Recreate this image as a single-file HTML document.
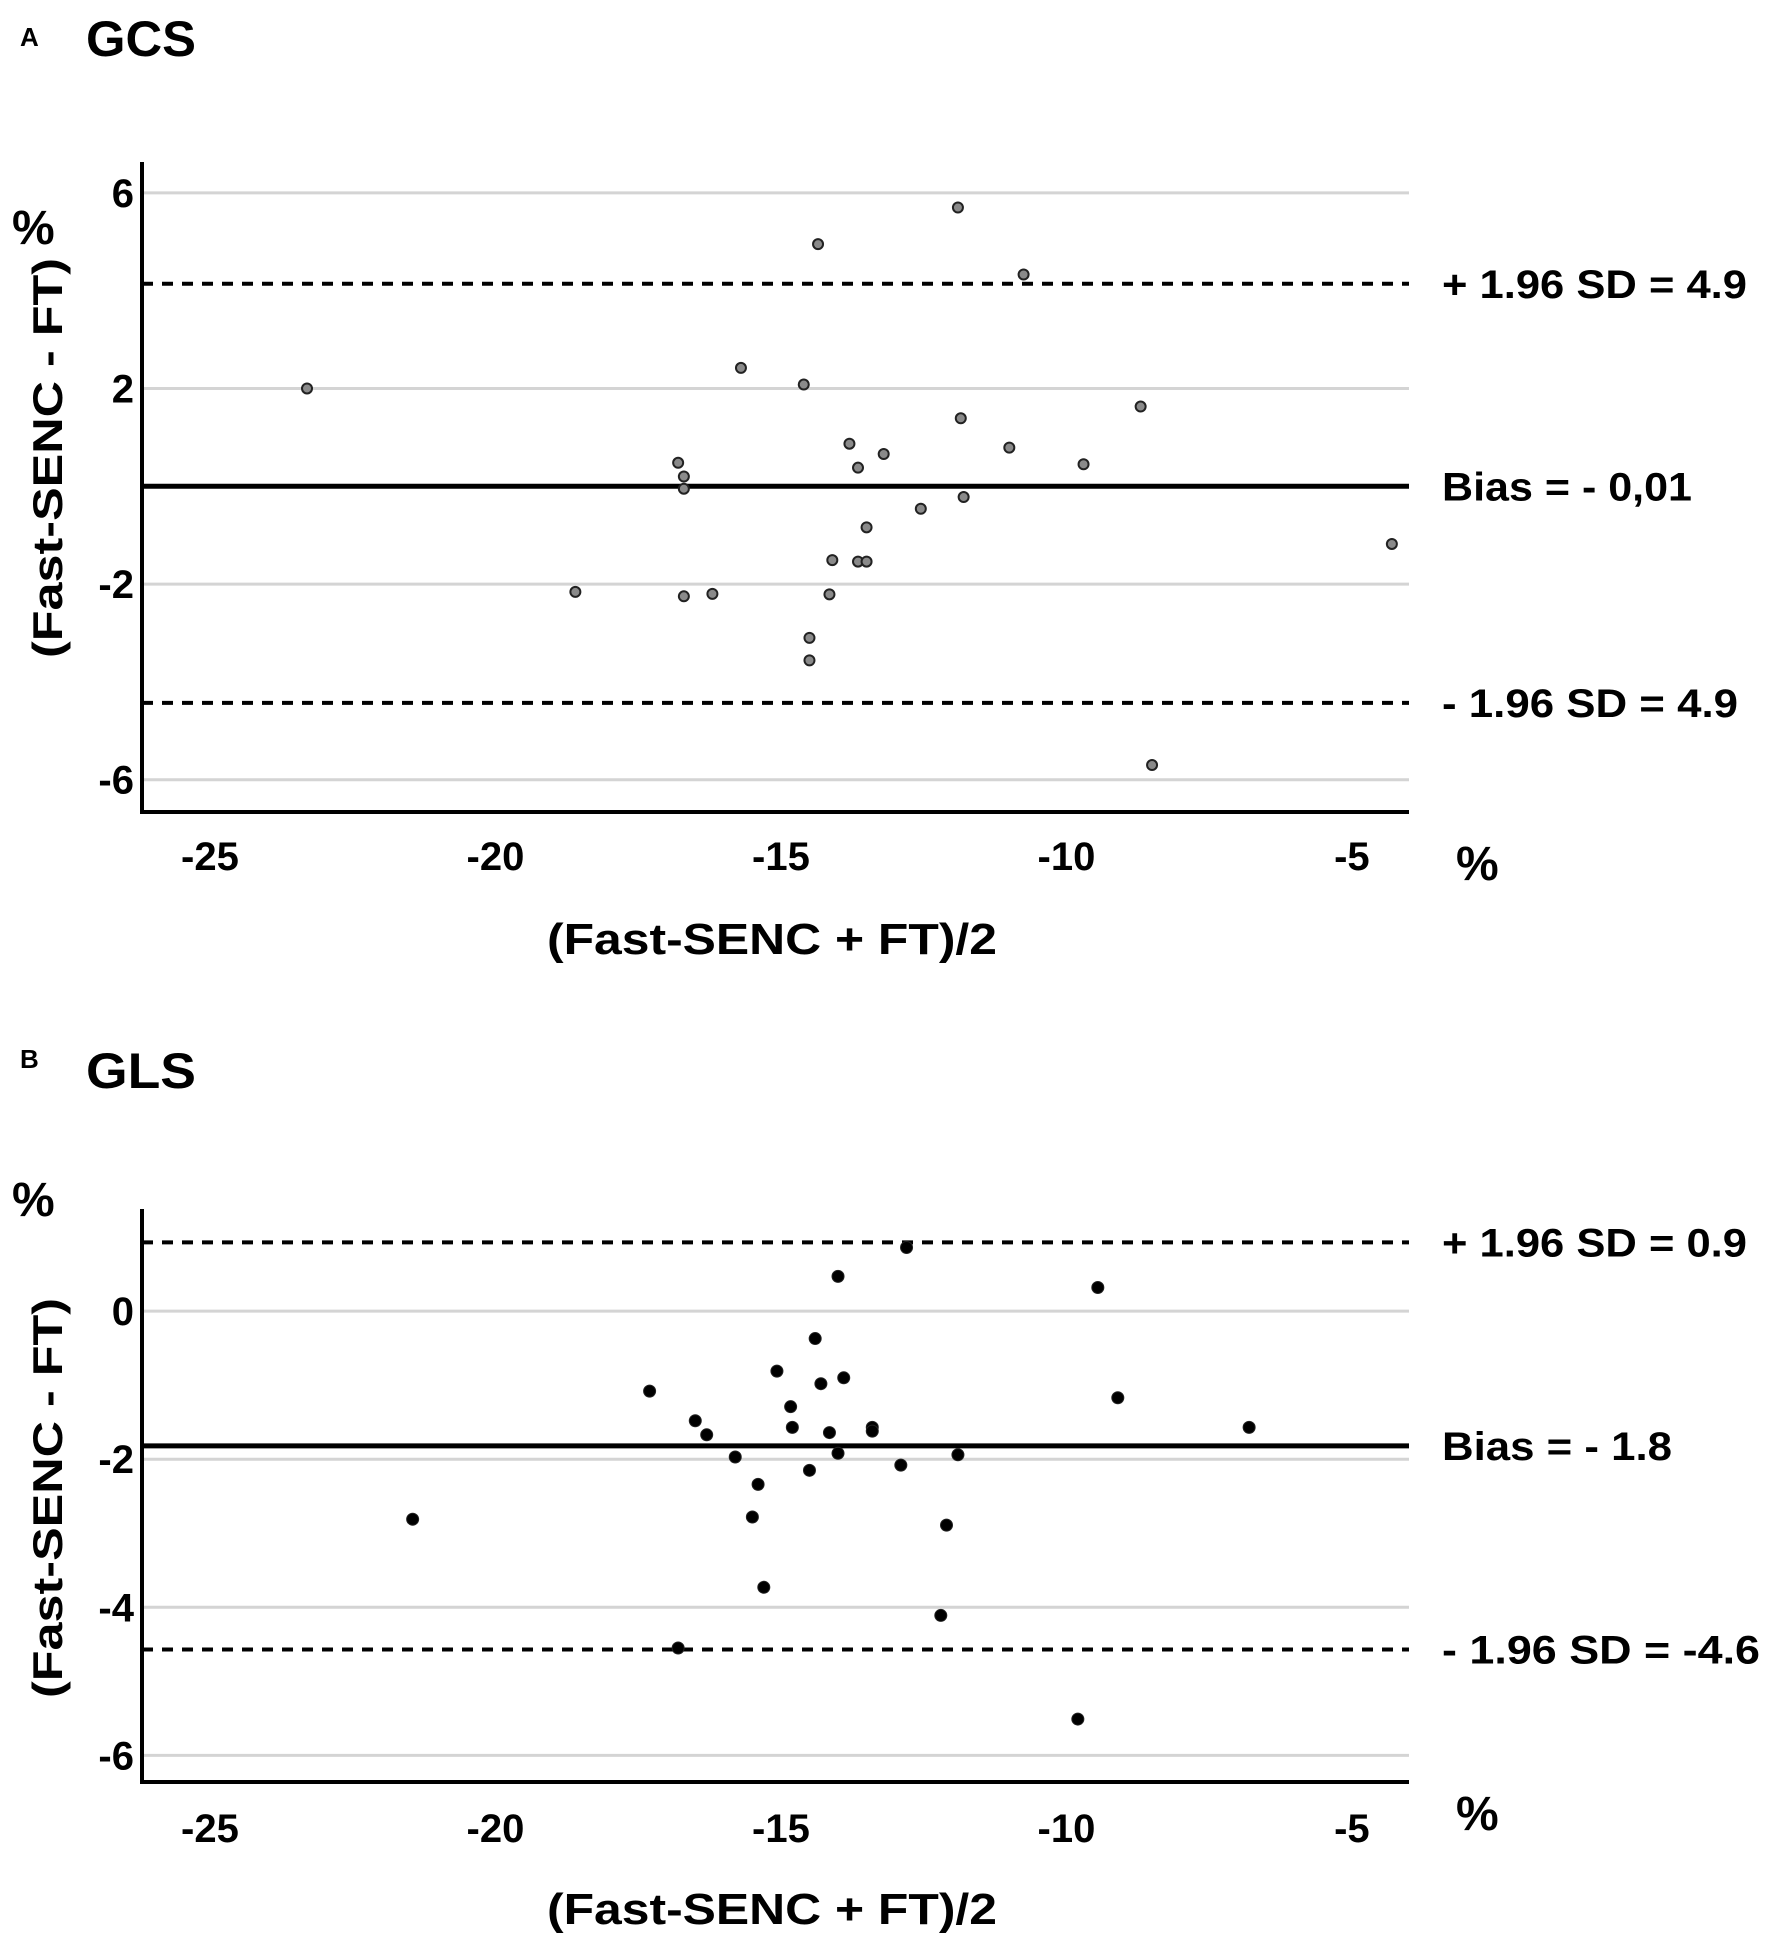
<!DOCTYPE html>
<html><head><meta charset="utf-8"><style>
html,body{margin:0;padding:0;background:#fff;}
svg{display:block;font-family:"Liberation Sans",sans-serif;}
</style></head><body>
<svg id="fig" width="1772" height="1939" viewBox="0 0 1772 1939" xmlns="http://www.w3.org/2000/svg"></svg>
<script>
const xTicks = [-25, -20, -15, -10, -5];
const gcsYTicks = [6, 2, -2, -6];
const glsYTicks = [0, -2, -4, -6];
const gcsX = [-23.3,-18.6,-16.8,-16.7,-16.7,-16.7,-16.2,-15.7,-14.6,-14.35,-14.5,-14.5,-14.15,-14.1,-13.8,-13.65,-13.65,-13.5,-13.5,-13.2,-12.55,-11.9,-11.85,-11.8,-11.0,-10.75,-9.7,-8.7,-8.5,-4.3];
const gcsY = [2.0,-2.16,0.48,0.2,-0.05,-2.25,-2.2,2.42,2.08,4.95,-3.1,-3.56,-2.21,-1.51,0.87,0.38,-1.54,-1.54,-0.84,0.66,-0.46,5.7,1.39,-0.22,0.79,4.33,0.45,1.63,-5.7,-1.18];
const gcsLines = [4.14, 0.0, -4.43];
const gcsLineLabels = ["+ 1.96 SD = 4.9", "Bias = - 0,01", "- 1.96 SD = 4.9"];
const glsX = [-21.45,-17.3,-16.8,-16.5,-16.3,-15.8,-15.5,-15.4,-15.3,-15.07,-14.83,-14.8,-14.5,-14.4,-14.3,-14.15,-14.0,-14.0,-13.9,-13.4,-13.4,-12.9,-12.8,-12.2,-12.1,-11.9,-9.8,-9.45,-9.1,-6.8];
const glsY = [-2.81,-1.08,-4.55,-1.48,-1.67,-1.97,-2.78,-2.34,-3.73,-0.81,-1.29,-1.57,-2.15,-0.37,-0.98,-1.64,0.47,-1.92,-0.9,-1.57,-1.62,-2.08,0.86,-4.11,-2.89,-1.94,-5.51,0.32,-1.17,-1.57];
const glsLines = [0.93, -1.82, -4.57];
const glsLineLabels = ["+ 1.96 SD = 0.9", "Bias = - 1.8", "- 1.96 SD = -4.6"];

const NS = "http://www.w3.org/2000/svg";
const svg = document.getElementById('fig');
function mk(tag, attrs, parent, text) {
  const e = document.createElementNS(NS, tag);
  for (const k in attrs) e.setAttribute(k, attrs[k]);
  if (text !== undefined) e.textContent = text;
  (parent || svg).appendChild(e);
  return e;
}

function panel(opt) {
  const g = mk('g', {});
  
  
  const L = 142, R = 1409, T = opt.top, B = opt.bottom;
  const xMin = -26.19, xMax = -4.0;
  const sx = v => L + (v - xMin) / (xMax - xMin) * (R - L);
  const sy = v => T + (opt.yMax - v) / (opt.yMax - opt.yMin) * (B - T);

  let t = mk('text', {x: 20, y: opt.letterY, 'font-size': 26, 'font-weight': 'bold'}, g, opt.letter);
  
  
  t = mk('text', {x: 86, y: opt.titleY, 'font-size': 50, 'font-weight': 'bold', textLength: 110, lengthAdjust: 'spacingAndGlyphs'}, g, opt.title);
  
  

  opt.yTicks.forEach(v => {
    const gl = mk('line', {x1: L, x2: R, y1: sy(v), y2: sy(v), stroke: '#d4d4d4', 'stroke-width': 3}, g);
    
    
    const tl = mk('text', {x: 134, y: sy(v) + 14, 'font-size': 40, 'font-weight': 'bold', 'text-anchor': 'end'}, g, String(v));
    
    
  });

  opt.lines.forEach((v, i) => {
    const ln = mk('line', {x1: L, x2: R, y1: sy(v), y2: sy(v), stroke: '#000', 'stroke-width': i === 1 ? 5 : 4, 'stroke-dasharray': i === 1 ? '' : '11 9'}, g);
    
    
    const lb = mk('text', {x: 1442, y: sy(v) + 14, 'font-size': 40, 'font-weight': 'bold', textLength: opt.labelLens[i], lengthAdjust: 'spacingAndGlyphs'}, g, opt.lineLabels[i]);
    
    
  });

  opt.xs.forEach((xv, i) => {
    const c = mk('circle', {cx: sx(xv), cy: sy(opt.ys[i]), r: opt.r, fill: opt.fill, stroke: '#222', 'stroke-width': opt.sw}, g);
    
    
  });

  const ax = mk('line', {x1: L, x2: L, y1: T, y2: B, stroke: '#000', 'stroke-width': 4}, g);
  
  
  const axx = mk('line', {x1: L - 2, x2: R, y1: B, y2: B, stroke: '#000', 'stroke-width': 4}, g);
  
  

  xTicks.forEach(v => {
    const tl = mk('text', {x: sx(v), y: opt.xTickY, 'font-size': 40, 'font-weight': 'bold', 'text-anchor': 'middle'}, g, String(v));
    
    
  });

  t = mk('text', {x: 772, y: opt.xTitleY, 'font-size': 44, 'font-weight': 'bold', 'text-anchor': 'middle', textLength: 450, lengthAdjust: 'spacingAndGlyphs'}, g, '(Fast-SENC + FT)/2');
  
  
  t = mk('text', {x: 0, y: 0, 'font-size': 42, 'font-weight': 'bold', 'text-anchor': 'middle', textLength: 400, lengthAdjust: 'spacingAndGlyphs', transform: `translate(62,${opt.yTitleY}) rotate(-90)`}, g, '(Fast-SENC - FT)');
  
  
  t = mk('text', {x: 12, y: opt.pctLeftY, 'font-size': 48, 'font-weight': 'bold'}, g, '%');
  
  
  t = mk('text', {x: 1456, y: opt.pctRightY, 'font-size': 48, 'font-weight': 'bold'}, g, '%');
  
  
}

panel({id: 'gcs', letter: 'A', title: 'GCS', letterY: 46, titleY: 56,
  top: 162, bottom: 812, yMin: -6.66, yMax: 6.63, yTicks: gcsYTicks,
  lines: gcsLines, lineLabels: gcsLineLabels, labelLens: [305, 250, 296],
  xs: gcsX, ys: gcsY, r: 5, fill: '#8a8a8a', sw: 2,
  xTickY: 870, xTitleY: 954, yTitleY: 458, pctLeftY: 244, pctRightY: 880});

panel({id: 'gls', letter: 'B', title: 'GLS', letterY: 1068, titleY: 1088,
  top: 1209, bottom: 1782, yMin: -6.36, yMax: 1.38, yTicks: glsYTicks,
  lines: glsLines, lineLabels: glsLineLabels, labelLens: [305, 230, 318],
  xs: glsX, ys: glsY, r: 6, fill: '#000', sw: 1,
  xTickY: 1842, xTitleY: 1924, yTitleY: 1498, pctLeftY: 1216, pctRightY: 1830});
</script>
</body></html>
